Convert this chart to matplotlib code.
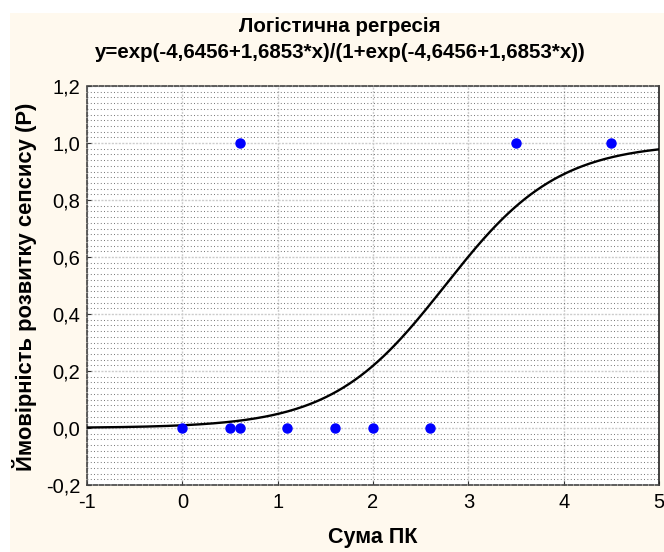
import numpy as np
import matplotlib.pyplot as plt
from matplotlib.patches import Rectangle

plt.rcParams['font.family'] = ['Liberation Sans', 'DejaVu Sans']
plt.rcParams['lines.scale_dashes'] = False

# observed cases: sum of PK score vs sepsis outcome (0/1)
suma_pk = [0.0, 0.5, 0.6, 1.1, 1.6, 2.0, 2.6, 0.6, 3.5, 4.5]
sepsis = [0, 0, 0, 0, 0, 0, 0, 1, 1, 1]

# logistic model coefficients
b0 = -4.6456
b1 = 1.6853

xticks = [-1, 0, 1, 2, 3, 4, 5]
xlabels = ['-1', '0', '1', '2', '3', '4', '5']
yticks = [-0.2, 0.0, 0.2, 0.4, 0.6, 0.8, 1.0, 1.2]
ylabels = ['-0,2', '0,0', '0,2', '0,4', '0,6', '0,8', '1,0', '1,2']

fig = plt.figure(figsize=(6.64, 5.52), dpi=100, facecolor='white')
# cream panel behind everything
fig.patches.append(Rectangle((10 / 664, 0), 1, 1 - 13 / 552, transform=fig.transFigure,
                             facecolor='#FFF9EE', edgecolor='none', zorder=-10))

ax = fig.add_axes([87 / 664, 67 / 552, 572 / 664, 399 / 552])
ax.set_facecolor('white')

xs = np.linspace(-1, 5, 300)
z = b0 + b1 * xs
ax.plot(xs, np.exp(z) / (1 + np.exp(z)), color='black', lw=1.7, zorder=3)
ax.plot(suma_pk, sepsis, 'o', color='#0000FF', markersize=6.5, zorder=4)

ax.set_xlim(-1, 5)
ax.set_ylim(-0.2, 1.2)
ax.set_xticks(xticks)
ax.set_xticklabels(xlabels)
ax.set_yticks(yticks)
ax.set_yticklabels(ylabels)
ax.set_yticks(np.arange(-0.2, 1.2001, 0.02), minor=True)

# dense dotted background + lighter major grid
ax.grid(which='minor', axis='y', color='#555555', lw=0.75, linestyle=(0, (0.55, 1.85)), zorder=0)
ax.grid(which='major', axis='both', color='#cccccc', lw=1, linestyle=(0, (1.5, 1)), zorder=1)
ax.tick_params(which='minor', length=0)
ax.tick_params(which='major', direction='in', length=3, color='#333333', labelsize=14.5)
ax.tick_params(axis='y', pad=5)
ax.tick_params(axis='x', pad=6)

for side in ['left', 'top', 'bottom']:
    ax.spines[side].set_linestyle((0, (3, 1.5)))
    ax.spines[side].set_color('#444444')
    ax.spines[side].set_linewidth(1.2)
ax.spines['right'].set_color('#222222')
ax.spines['right'].set_linewidth(1.2)

fig.text(0.512, 0.952, 'Логістична регресія', ha='center', va='center',
         fontsize=14.8, fontweight='bold')
fig.text(0.512, 0.904, 'y=exp(-4,6456+1,6853*x)/(1+exp(-4,6456+1,6853*x))',
         ha='center', va='center', fontsize=14.8, fontweight='bold')
fig.text(373 / 664, 1 - 538 / 552, 'Сума ПК', ha='center', va='center',
         fontsize=15.5, fontweight='bold')
fig.text(25 / 664, 1 - 287 / 552, 'Ймовірність розвитку сепсису (Р)', ha='center',
         va='center', rotation=90, fontsize=15.8, fontweight='bold')

fig.savefig('out.png', dpi=100, facecolor=fig.get_facecolor())
